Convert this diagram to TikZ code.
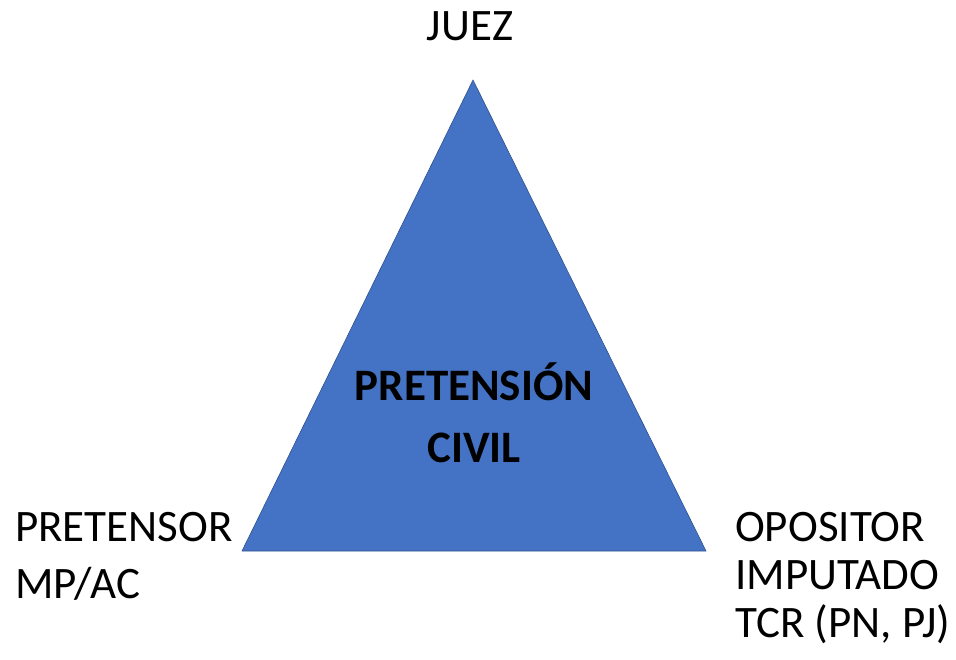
\documentclass[tikz,border=0pt]{standalone}
\usepackage{fontspec}
\setmainfont{Carlito}
\usetikzlibrary{positioning}
\definecolor{tri-blue}{HTML}{4472C4}
\definecolor{tri-edge}{HTML}{2F528F}
\tikzstyle{partystyle}=[inner sep=0pt,font=\fontsize{45}{57}\selectfont,align=left]
\tikzstyle{claimstyle}=[inner sep=0pt,font=\bfseries\fontsize{45}{62}\selectfont,align=center]
\begin{document}
\begin{tikzpicture}[x=1pt,y=-1pt]
\useasboundingbox (0,0) rectangle (956,659);
\coordinate (apex) at (473,80);
\coordinate (baseleft) at (242,551);
\coordinate (baseright) at (706,551);
\filldraw[fill=tri-blue,draw=tri-edge,line width=0.6pt] (apex) -- (baseright) -- (baseleft) -- cycle;
\node [style=claimstyle,anchor=north] (claim) at (474,362) {PRETENSIÓN\\CIVIL};
\node [style=partystyle,anchor=base] (juez) at (470,40) {JUEZ};
\node [style=partystyle,anchor=north west] (pretensor) at (15,512) {PRETENSOR\\MP/AC};
\node [style=partystyle,anchor=north west,font=\fontsize{45}{48}\selectfont] (opositor) at (735,512) {OPOSITOR\\IMPUTADO\\TCR (PN, PJ)};
\end{tikzpicture}
\end{document}
